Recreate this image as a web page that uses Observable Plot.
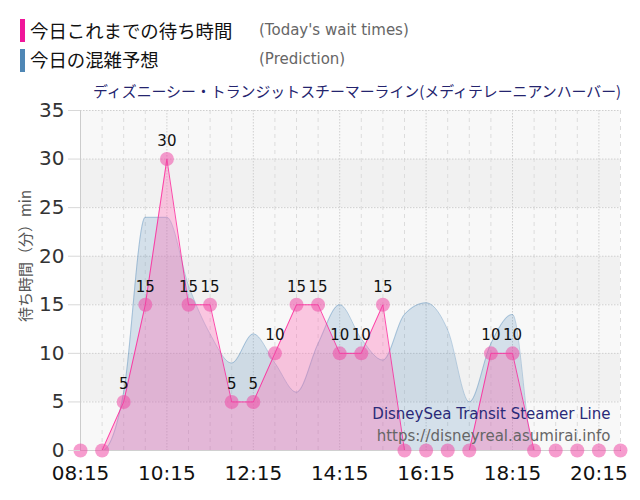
<!DOCTYPE html>
<html><head><meta charset="utf-8">
<script src="https://cdn.jsdelivr.net/npm/d3@7"></script>
<script src="https://cdn.jsdelivr.net/npm/@observablehq/plot@0.6"></script>
<style>
body{margin:0;background:#fff;font-family:"DejaVu Sans",sans-serif;}
#wrap{position:relative;width:640px;height:500px;overflow:hidden;}
#head{position:relative;height:100px;}
.bar{position:absolute;left:20px;width:5px;}
.jp{position:absolute;left:30px;font-family:"Noto Sans CJK JP",sans-serif;font-size:18.4px;color:#111;line-height:1;}
.en{position:absolute;left:259px;font-family:"DejaVu Sans",sans-serif;font-size:15px;color:#666;line-height:1;}
#title{position:absolute;left:93px;top:84px;font-family:"Noto Sans CJK JP",sans-serif;font-size:14.9px;color:#24246e;line-height:1;white-space:nowrap;}
#ylab{position:absolute;left:24px;top:256px;transform:translate(-50%,-50%) rotate(-90deg);font-family:"Noto Sans CJK JP",sans-serif;font-size:15px;color:#555;white-space:nowrap;}
#chart svg{overflow:visible;}
</style></head><body>
<div id="wrap">
  <div id="head">
    <div class="bar" style="top:19px;height:23px;background:#f0169a"></div>
    <div class="jp" style="top:21px">今日これまでの待ち時間</div>
    <div class="en" style="top:23px">(Today's wait times)</div>
    <div class="bar" style="top:49px;height:23px;background:#4f87b5"></div>
    <div class="jp" style="top:50px">今日の混雑予想</div>
    <div class="en" style="top:52px">(Prediction)</div>
    <div id="title">ディズニーシー・トランジットスチーマーライン(メディテレーニアンハーバー)</div>
  </div>
  <div id="chart"></div>
  <div id="ylab">待ち時間（分）min</div>
</div>
<script>
const times = ["08:15","08:45","09:15","09:45","10:15","10:45","11:15","11:45","12:15","12:45","13:15","13:45","14:15","14:45","15:15","15:45","16:15","16:45","17:15","17:45","18:15","18:45","19:15","19:45","20:15","20:45"];
const waitTimes = [0,0,5,15,30,15,15,5,5,10,15,15,10,10,15,0,0,0,0,10,10,0,0,0,0,0];
const prediction = [0,0,6,24,24,17,12,9,12,9,6,11,15,11.5,9.3,14,15.2,12.4,5,11,14,0,0,0,0,0];
const xTickLabels = ["08:15","10:15","12:15","14:15","16:15","18:15","20:15"];
const yTicks = [0,5,10,15,20,25,30,35];
const bandLows = [0,5,10,15,20,25,30];

const toMin = s => { const [h,m] = s.split(":").map(Number); return h*60+m; };
const fmt = m => String(Math.floor(m/60)).padStart(2,"0")+":"+String(m%60).padStart(2,"0");
const rows = times.map((t,i)=>({t:toMin(t), wait:waitTimes[i], pred:prediction[i]}));
const bands = bandLows.map((lo,i)=>({lo, hi:lo+5, fill: i%2===0 ? "#f8f8f8" : "#f1f1f1"}));
const xTicks = xTickLabels.map(toMin);
const halfHours = times.map(toMin);

const chart = Plot.plot({
  width:640, height:400,
  marginTop:10, marginBottom:50, marginLeft:80, marginRight:20,
  style:{fontFamily:"DejaVu Sans, sans-serif", background:"transparent", overflow:"visible"},
  x:{type:"linear", domain:[toMin(times[0]), toMin(times[times.length-1])]},
  y:{domain:[0,35]},
  marks:[
    Plot.rect(bands,{y1:"lo", y2:"hi", fill:"fill"}),
    Plot.ruleX(halfHours.filter(m=>!xTicks.includes(m)),{stroke:"#dcdcdc", strokeDasharray:"4,4"}),
    Plot.ruleX(xTicks,{stroke:"#cfcfcf", strokeDasharray:"1.5,1.5"}),
    Plot.ruleY(yTicks.slice(1),{stroke:"#cfcfcf", strokeDasharray:"1.5,1.5"}),
    Plot.ruleX([halfHours[0]],{stroke:"#cccccc"}),
    Plot.areaY(rows,{x:"t", y:"pred", curve:"monotone-x", fill:"steelblue", fillOpacity:0.2}),
    Plot.lineY(rows,{x:"t", y:"pred", curve:"monotone-x", stroke:"steelblue", strokeOpacity:0.35, strokeWidth:1}),
    Plot.areaY(rows,{x:"t", y:"wait", fill:"hotpink", fillOpacity:0.35}),
    Plot.lineY(rows,{x:"t", y:"wait", stroke:"deeppink", strokeOpacity:0.75, strokeWidth:1}),
    Plot.ruleY([0],{stroke:"#d0d0d0"}),
    Plot.dot(rows,{x:"t", y:"wait", r:7, fill:"#ee4aa6", fillOpacity:0.55, stroke:"none"}),
    Plot.text(rows.filter(d=>d.wait>0),{x:"t", y:"wait", text:d=>String(d.wait), dy:-18, fontSize:15, fill:"#111"}),
    Plot.text(["DisneySea Transit Steamer Line"],{frameAnchor:"bottom-right", lineAnchor:"middle", dx:-10, dy:-36, fontSize:15, fill:"#2a2a78"}),
    Plot.text(["https://disneyreal.asumirai.info"],{frameAnchor:"bottom-right", lineAnchor:"middle", dx:-10, dy:-14, fontSize:15, fill:"#666"}),
    Plot.axisX({ticks:xTicks, tickFormat:fmt, tickSize:0, tickPadding:15, fontSize:20, fill:"#111", label:null}),
    Plot.axisY({ticks:yTicks, tickSize:12, tickPadding:4, fontSize:20, fill:"#333", stroke:"#d8d8d8", label:null})
  ]
});
document.getElementById("chart").appendChild(chart);
</script>
</body></html>
